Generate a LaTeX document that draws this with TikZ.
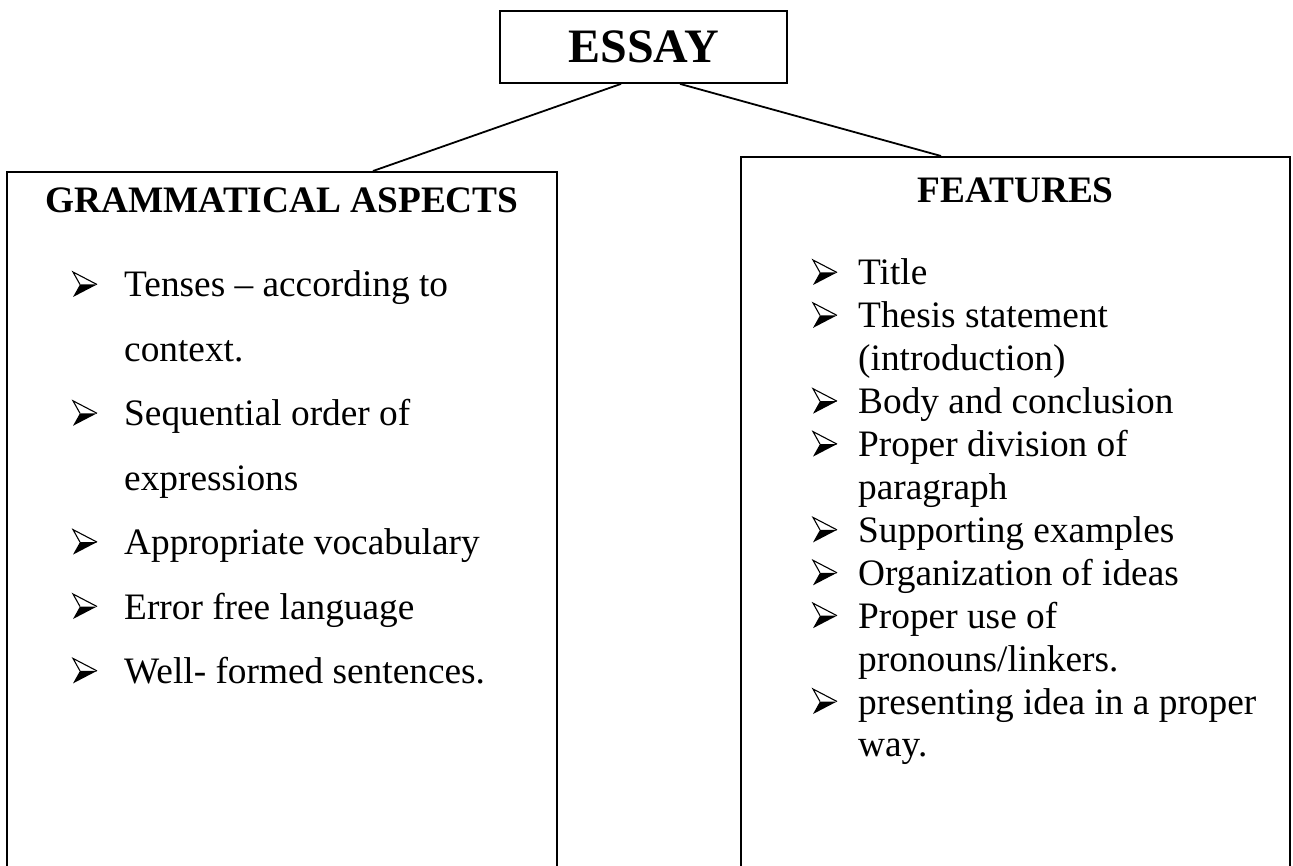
\documentclass[tikz,border=0pt]{standalone}
\usepackage{fontspec}
\setmainfont{Liberation Serif}
\tikzset{
  % three-dimensional arrowhead bullet: outlined upper half, solid lower half
  arrowbullet/.pic={
    \fill (7,-12.5) -- (24,-12.5) -- (0,0) -- cycle;
    \draw[line width=1.1pt, line join=miter] (7,-12.5) -- (0,-25) -- (24,-12.5);
  }
}
\begin{document}
\begin{tikzpicture}[x=1pt, y=-1pt,
  frame/.style={draw, line width=1.8pt, inner sep=0pt},
  link/.style={line width=1.8pt},
  titletext/.style={font=\bfseries\fontsize{48}{55}\selectfont},
  head/.style={font=\bfseries\fontsize{37.33}{43}\selectfont, inner sep=0pt, anchor=base},
  item/.style={font=\fontsize{37.33}{43}\selectfont, inner sep=0pt, anchor=base west}
]
\useasboundingbox (0,0) rectangle (1293,866);
\clip (0,0) rectangle (1293,866);

% top box
\node[frame, titletext, minimum width=287pt, minimum height=72pt] (essay) at (643.5,47) {ESSAY};

% the two column boxes run off the bottom edge
\node[frame, minimum width=550pt, minimum height=740pt, anchor=north] (gram) at (282,171) {};
\node[frame, minimum width=549pt, minimum height=760pt, anchor=north] (fea) at (1015.5,156) {};

\draw[link] ([xshift=-22.5pt]essay.south) -- ([xshift=91pt]gram.north);
\draw[link] ([xshift=36.5pt]essay.south) -- ([xshift=-74.5pt]fea.north);

% headings
\node[head] (gh) at (282,213) {GRAMMATICAL ASPECTS};
\node[head] (fh) at (1015.5,203) {FEATURES};

% left column
\node[item] (l1) at (124,297)   {Tenses -- according to};
\node[item] (l1b) at (124,361.4) {context.};
\node[item] (l2) at (124,425.8) {Sequential order of};
\node[item] (l2b) at (124,490.2) {expressions};
\node[item] (l3) at (124,554.6) {Appropriate vocabulary};
\node[item] (l4) at (124,619)   {Error free language};
\node[item] (l5) at (124,683.4) {Well- formed sentences.};
\foreach \n in {l1,l2,l3,l4,l5}
  \pic at ([xshift=-51pt]\n.base west) {arrowbullet};

% right column
\node[item] (r1) at (858,285)    {Title};
\node[item] (r2) at (858,327.9)  {Thesis statement};
\node[item] (r2b) at (858,370.8) {(introduction)};
\node[item] (r3) at (858,413.7)  {Body and conclusion};
\node[item] (r4) at (858,456.6)  {Proper division of};
\node[item] (r4b) at (858,499.5) {paragraph};
\node[item] (r5) at (858,542.4)  {Supporting examples};
\node[item] (r6) at (858,585.3)  {Organization of ideas};
\node[item] (r7) at (858,628.2)  {Proper use of};
\node[item] (r7b) at (858,671.1) {pronouns/linkers.};
\node[item] (r8) at (858,714)    {presenting idea in a proper};
\node[item] (r8b) at (858,756.9) {way.};
\foreach \n in {r1,r2,r3,r4,r5,r6,r7,r8}
  \pic at ([xshift=-45pt]\n.base west) {arrowbullet};
\end{tikzpicture}
\end{document}
